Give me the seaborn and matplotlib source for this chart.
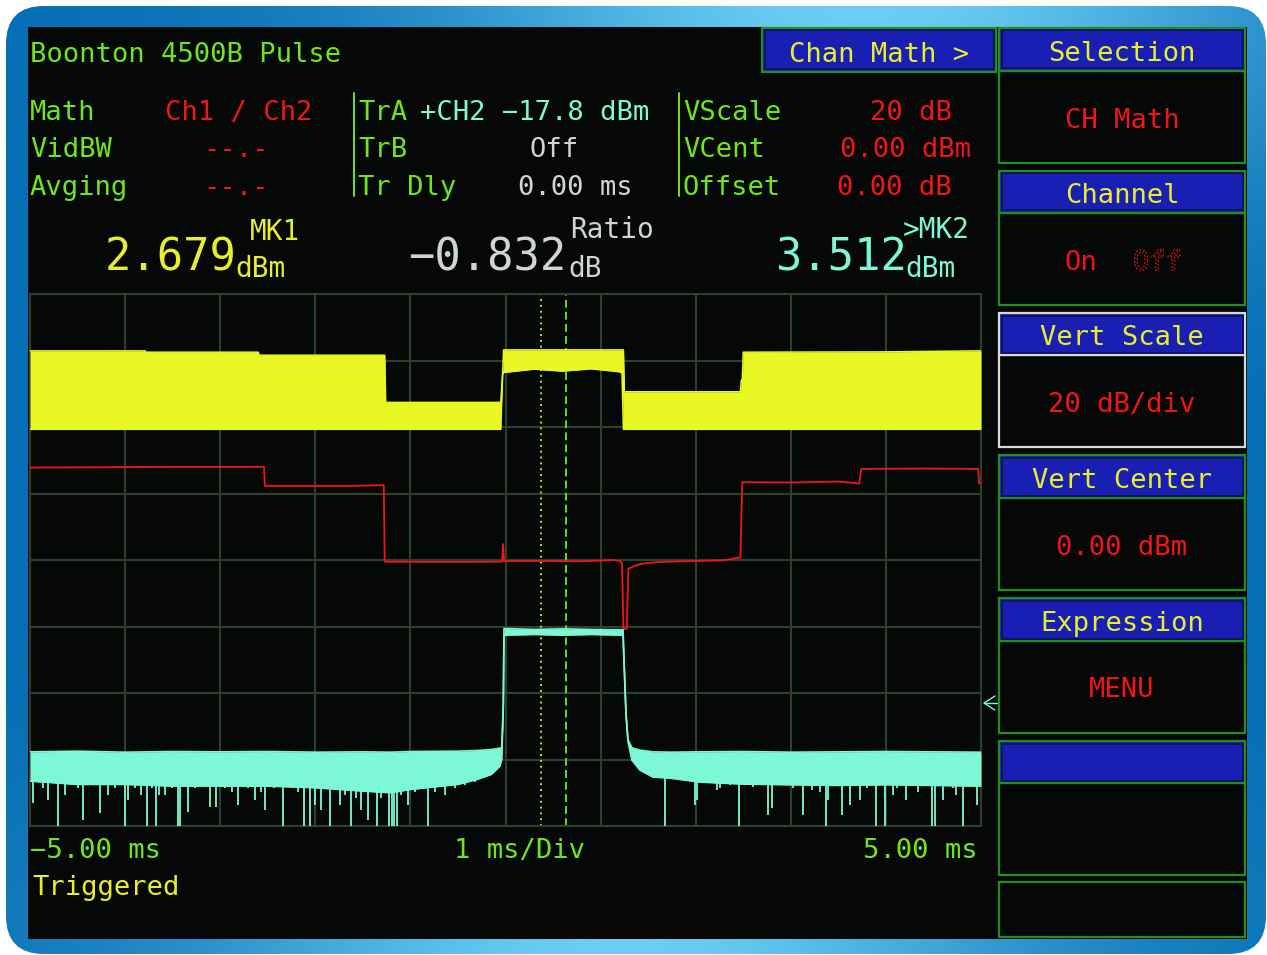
import numpy as np
import matplotlib
matplotlib.use("Agg")
import matplotlib.pyplot as plt
import seaborn as sns
from matplotlib.patches import Rectangle, FancyBboxPatch
from matplotlib import patheffects

# ---------------- trace data: time in ms, level in dB ----------------
# Ch1 min/max envelope
yellow_t = [-5.00, -3.79, -3.78, -2.60, -2.59, -1.27, -1.26, -0.05, -0.03, -0.02,
            0.30, 0.60, 0.90, 1.20, 1.225, 1.24, 1.25, 2.47, 2.48, 2.49, 2.50, 4.00, 5.00]
yellow_hi = [62.9, 62.9, 62.5, 62.5, 61.6, 61.6, 47.4, 47.4, 56.0, 63.2,
             63.2, 63.2, 63.2, 63.2, 63.2, 63.2, 50.6, 50.6, 54.1, 54.1, 62.5, 62.6, 62.9]
yellow_lo = [39.3, 39.3, 39.3, 39.3, 39.3, 39.3, 39.3, 39.3, 56.0, 56.4,
             57.4, 56.8, 57.5, 56.6, 56.2, 39.3, 39.3, 39.3, 39.3, 39.3, 39.3, 39.3, 39.3]

# Math channel: Ch1 / Ch2 ratio
red_t = [-5.00, -3.50, -2.54, -2.53, -1.60, -1.28, -1.27, -0.60, -0.035, -0.025, -0.015,
         0.40, 0.80, 1.15, 1.20, 1.225, 1.240, 1.258, 1.275, 1.292, 1.31, 1.38, 1.49,
         1.63, 1.84, 2.30, 2.47, 2.49, 3.00, 3.50, 3.72, 3.74, 4.40, 4.97, 4.98, 5.00]
red_db = [27.8, 28.0, 28.0, 22.3, 22.3, 22.5, -0.5, -0.6, -0.5, 4.8, -0.3,
          -0.3, -0.4, 0.0, -0.3, -0.9, -20.6, -20.8, -20.6, -2.6, -2.4, -1.5, -0.9,
          -0.6, -0.4, -0.1, 0.8, 23.4, 23.3, 23.6, 23.0, 27.4, 27.5, 27.4, 23.1, 23.1]

# Ch2 (trace A) min/max envelope
cyan_t = [-5.00, -4.50, -4.00, -3.50, -3.00, -2.50, -2.00, -1.50, -1.20, -1.00, -0.50,
          -0.30, -0.15, -0.06, -0.040, -0.023, -0.016, 0.30, 0.60, 0.90, 1.236, 1.246,
          1.267, 1.288, 1.330, 1.414, 1.551, 1.730, 2.045, 2.50, 3.00, 3.50, 4.00, 4.50, 5.00]
cyan_hi = [-57.7, -57.5, -57.8, -57.6, -57.7, -57.6, -57.8, -57.7, -57.8, -57.6, -57.5,
           -57.3, -57.0, -56.6, -56.5, -43.0, -20.6, -20.9, -20.7, -20.9, -21.0, -30.0,
           -46.0, -54.1, -56.5, -57.2, -57.7, -57.8, -57.7, -57.6, -57.8, -57.7, -57.6, -57.7, -57.8]
cyan_lo = [-66.5, -67.5, -67.5, -68.0, -68.0, -68.0, -68.5, -69.5, -70.0, -69.0, -67.5,
           -66.0, -64.5, -62.0, -60.0, -45.0, -22.6, -22.4, -22.6, -22.4, -22.6, -30.5,
           -46.5, -54.6, -60.2, -63.2, -65.3, -65.6, -66.8, -67.4, -67.6, -67.8, -67.6, -67.8, -68.0]

# noise dropouts on trace A (time, lowest level)
spike_t = [-4.71, -4.00, -3.77, -3.68, -3.44, -3.42, -2.34, -2.12, -2.06, -1.85, -1.62,
           -1.35, -1.23, -1.19, -1.17, -1.14, -0.82, 1.68, 2.46, 3.37, 3.90, 3.99, 4.49,
           4.52, 4.81,
           -4.97, -4.86, -4.81, -4.63, -4.57, -4.50, -4.44, -4.36, -4.26, -4.18, -4.11,
           -3.97, -3.90, -3.83, -3.72, -3.64, -3.58, -3.51, -3.34, -3.27, -3.20, -3.11,
           -3.04, -2.95, -2.88, -2.81, -2.71, -2.63, -2.57, -2.53, -2.43, -2.25, -2.18,
           -2.00, -1.94, -1.74, -1.69, -1.57, -1.52, -1.45, -1.31, -1.10, -1.03, -0.95,
           -0.74, -0.64, -0.53, -0.43, -0.32,
           1.99, 2.01, 2.22, 2.26, 2.36, 2.60, 2.76, 2.80, 2.92, 3.02, 3.13, 3.22, 3.31,
           3.39, 3.54, 3.62, 3.65, 3.73, 3.80, 4.07, 4.12, 4.21, 4.34, 4.60, 4.71, 4.74,
           4.88, 4.96]
spike_db = [-80.0] * 25 + [
           -73.1, -68.7, -72.2, -70.7, -67.7, -68.7, -78.2, -67.7, -76.1, -70.7, -68.7,
           -72.2, -68.7, -70.7, -68.7, -70.7, -70.7, -68.7, -75.8, -68.7, -67.2, -74.3,
           -74.3, -68.7, -69.7, -73.7, -68.7, -72.2, -69.7, -75.2, -68.7, -68.7, -69.7,
           -73.7, -75.2, -73.7, -70.7, -71.7, -75.2, -78.2, -71.7, -70.7, -73.7, -69.7,
           -69.7, -70.7, -68.7, -67.7, -66.7,
           -73.7, -72.2, -69.2, -68.7, -67.7, -68.2, -76.7, -74.6, -67.7, -68.7, -76.7,
           -69.2, -69.7, -72.2, -76.7, -73.7, -67.7, -72.2, -68.5, -70.7, -68.7, -72.2,
           -69.7, -72.2, -68.7, -70.7, -67.7, -73.7]

# marker positions (ms)
mk1_t = 0.373
mk2_t = 0.636

time_ticks = [-5, -4, -3, -2, -1, 0, 1, 2, 3, 4, 5]
level_ticks = [-80, -60, -40, -20, 0, 20, 40, 60, 80]

# ---------------- colours ----------------
SCREEN = "#050806"
GRID = "#2c402c"
GREEN = "#6ee61e"
RED = "#f01616"
YELLOW = "#e8ee2e"
TRACE_Y = "#e9f825"
CYAN = "#7cf8d6"
GRAY = "#d0d5d0"
BLUE = "#1a1fb4"
NAVY = "#0b1040"
EDGE = "#1f8f1f"
WHITE_EDGE = "#d8d8d8"

W, H = 1267, 955

sns.set_theme(style="dark", rc={"axes.facecolor": SCREEN, "grid.color": GRID,
                                "figure.facecolor": "white"})
plt.rcParams["font.family"] = ["DejaVu Sans Mono", "DejaVu Sans"]

fig = plt.figure(figsize=(W / 100, H / 100), dpi=100)
bg = fig.add_axes([0, 0, 1, 1])
bg.set_axis_off()

# rounded blue bezel with a soft highlight
yy, xx = np.mgrid[0:H, 0:W]
glow = (np.exp(-(((xx - 860) / 420.0) ** 2 + (yy / 230.0) ** 2)) +
        np.exp(-(((xx - 620) / 420.0) ** 2 + ((yy - H) / 190.0) ** 2)))
glow = np.clip(glow, 0, 1)[..., None]
dark = np.array([6, 110, 180]) / 255
light = np.array([108, 206, 244]) / 255
img = dark + (light - dark) * glow
im = bg.imshow(img, extent=(0, W, H, 0), aspect="auto", interpolation="bilinear", zorder=0)
frame = FancyBboxPatch((6, 6), W - 7, H - 7, boxstyle="round,pad=0,rounding_size=38",
                       facecolor="none", edgecolor="none")
bg.add_patch(frame)
im.set_clip_path(frame)
bg.set_xlim(0, W)
bg.set_ylim(H, 0)

# screen
bg.add_patch(Rectangle((28, 27), 1219, 912, facecolor=SCREEN, edgecolor="none", zorder=1))


def label(x, y, s, color, size=19.5, ha="left", **kw):
    return bg.text(x, y, s, color=color, fontsize=size, ha=ha, va="baseline", zorder=6, **kw)


# header and settings block
label(30, 62, "Boonton 4500B Pulse", GREEN)
label(30, 120, "Math", GREEN)
label(165, 120, "Ch1 / Ch2", RED)
label(30, 157, "VidBW", GREEN)
label(203, 157, "--.-", RED)
label(30, 195, "Avging", GREEN)
label(203, 195, "--.-", RED)

bg.plot([354, 354], [93, 196], color=GREEN, lw=1.4, zorder=6)
label(358, 120, "TrA", GREEN)
label(649, 120, "+CH2 \u221217.8 dBm", CYAN, ha="right")
label(358, 157, "TrB", GREEN)
label(579, 157, "Off", GRAY, ha="right")
label(358, 195, "Tr Dly", GREEN)
label(633, 195, "0.00 ms", GRAY, ha="right")

bg.plot([679, 679], [93, 196], color=GREEN, lw=1.4, zorder=6)
label(683, 120, "VScale", GREEN)
label(952, 120, "20 dB", RED, ha="right")
label(683, 157, "VCent", GREEN)
label(971, 157, "0.00 dBm", RED, ha="right")
label(683, 195, "Offset", GREEN)
label(952, 195, "0.00 dB", RED, ha="right")

# marker readouts
BIG, SMALL = 31.5, 20
label(105, 270, "2.679", YELLOW, BIG)
label(250, 240, "MK1", YELLOW, SMALL)
label(235, 277, "dBm", YELLOW, SMALL)
label(408, 270, "\u22120.832", GRAY, BIG)
label(570, 238, "Ratio", GRAY, SMALL)
label(568, 277, "dB", GRAY, SMALL)
label(775, 270, "3.512", CYAN, BIG)
label(903, 238, ">MK2", CYAN, SMALL)
label(905, 277, "dBm", CYAN, SMALL)

# time base labels
label(30, 858, "\u22125.00 ms", GREEN)
label(520, 858, "1 ms/Div", GREEN, ha="center")
label(978, 858, "5.00 ms", GREEN, ha="right")
label(32, 895, "Triggered", YELLOW)


def header(x0, x1, y0, y1, edge=EDGE):
    bg.add_patch(Rectangle((x0, y0), x1 - x0, y1 - y0, facecolor=BLUE, edgecolor=edge,
                           lw=1.6, zorder=3))
    bg.add_patch(Rectangle((x0 + 2.5, y0 + 2.5), x1 - x0 - 5, y1 - y0 - 5, facecolor="none",
                           edgecolor=NAVY, lw=1.1, zorder=3))


def body(x0, x1, y0, y1, edge=EDGE):
    bg.add_patch(Rectangle((x0, y0), x1 - x0, y1 - y0, facecolor=SCREEN, edgecolor=edge,
                           lw=1.6, zorder=2))


# soft-key panel
header(762, 996, 28, 72)
label(879, 62, "Chan Math >", YELLOW, ha="center")

PX0, PX1, PXC = 999, 1245, 1122
keys = [("Selection", 28, 71, 163, EDGE),
        ("Channel", 171, 213, 305, EDGE),
        ("Vert Scale", 313, 355, 447, WHITE_EDGE),
        ("Vert Center", 455, 498, 590, EDGE),
        ("Expression", 598, 641, 733, EDGE),
        ("", 741, 783, 875, EDGE)]
for title, y0, y1, y2, edge in keys:
    body(PX0, PX1, y1, y2, edge)
    header(PX0, PX1, y0, y1, edge)
    if title:
        label(PXC, y1 - 10, title, YELLOW, ha="center")
body(PX0, PX1, 882, 937)

label(PXC, 128, "CH Math", RED, ha="center")
label(1064, 270, "On", RED)
off = label(1133, 270, "Off", SCREEN)
off.set_path_effects([patheffects.Stroke(linewidth=0.9, foreground=RED,
                                         dashes={"dash_offset": 0, "dash_list": [1.2, 1.4]})])
label(PXC, 412, "20 dB/div", RED, ha="center")
label(PXC, 555, "0.00 dBm", RED, ha="center")
label(PXC, 697, "MENU", RED, ha="center")

# reference arrow for trace A
bg.plot([995, 984, 995], [696, 703, 710], color=CYAN, lw=1.0, zorder=6)
bg.plot([984, 997], [703, 703], color=CYAN, lw=1.0, zorder=6)

# ---------------- graticule and traces ----------------
ax = fig.add_axes([30 / W, 1 - 826 / H, 951 / W, 532 / H])
ax.set_facecolor(SCREEN)
ax.set_xlim(-5, 5)
ax.set_ylim(-80, 80)
ax.set_xticks(time_ticks)
ax.set_yticks(level_ticks)
ax.tick_params(length=0, labelbottom=False, labelleft=False)
ax.grid(True, color=GRID, lw=1.5)
for s in ax.spines.values():
    s.set_visible(True)
    s.set_color(GRID)
    s.set_linewidth(1.5)

ax.axvline(mk1_t, color="#b6e61e", lw=1.4, ls=(0, (1.0, 2.0)), zorder=2)
ax.axvline(mk2_t, color="#5fe01a", lw=1.4, ls=(0, (4.0, 2.2)), zorder=2)

ax.fill_between(yellow_t, yellow_lo, yellow_hi, color=TRACE_Y, lw=0, zorder=3)
sns.lineplot(x=yellow_t, y=yellow_hi, ax=ax, color=TRACE_Y, lw=1.1, estimator=None,
             sort=False, legend=False, zorder=3)
sns.lineplot(x=yellow_t, y=yellow_lo, ax=ax, color=TRACE_Y, lw=1.1, estimator=None,
             sort=False, legend=False, zorder=3)

sns.lineplot(x=red_t, y=red_db, ax=ax, color=RED, lw=1.3, estimator=None, sort=False,
             legend=False, zorder=4)

ax.fill_between(cyan_t, cyan_lo, cyan_hi, color=CYAN, lw=0, zorder=5)
sns.lineplot(x=cyan_t, y=cyan_hi, ax=ax, color=CYAN, lw=1.2, estimator=None, sort=False,
             legend=False, zorder=5)
sns.lineplot(x=cyan_t, y=cyan_lo, ax=ax, color=CYAN, lw=1.2, estimator=None, sort=False,
             legend=False, zorder=5)
ax.vlines(spike_t, spike_db, -63.5, color=CYAN, lw=1.3, zorder=5)

ax.set_xlabel("")
ax.set_ylabel("")

fig.savefig("out.png", dpi=100)
